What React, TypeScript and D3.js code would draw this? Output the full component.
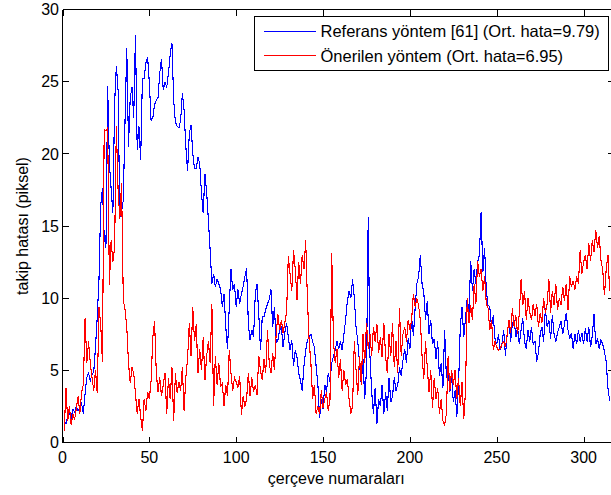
import React from 'react';
import * as d3 from 'd3';

// Referans yöntem [61] — frames 1..315
const blueSeries: number[] = [
  1.5, 1.3, 1.8, 2.0, 1.7, 2.3, 2.1, 2.5, 2.2, 2.4,
  2.7, 2.0, 3.4, 4.5, 4.8, 4.3, 4.7, 4.9, 6.6, 8.7,
  11.3, 16.4, 17.6, 14.3, 13.5, 24.7, 19.3, 17.6, 15.9, 23.5,
  26.1, 24.4, 15.6, 16.0, 16.8, 22.3, 27.3, 20.5, 23.9, 24.6,
  22.5, 28.2, 20.3, 21.9, 19.6, 25.2, 25.2, 26.3, 26.7, 24.9,
  22.3, 22.5, 23.4, 23.7, 23.9, 25.6, 26.6, 24.4, 25.0, 24.6,
  25.6, 26.9, 27.7, 23.7, 22.2, 21.9, 21.8, 22.3, 24.2, 23.0,
  20.5, 18.8, 21.4, 22.0, 20.0, 19.0, 19.0, 19.8, 19.3, 17.3,
  15.9, 18.6, 17.3, 15.4, 13.3, 11.0, 11.7, 10.8, 11.3, 11.0,
  10.6, 9.4, 10.3, 8.0, 6.5, 9.4, 12.0, 10.6, 11.0, 9.4,
  10.6, 9.6, 10.3, 10.8, 11.5, 12.1, 8.2, 7.1, 7.8, 7.3,
  10.3, 11.0, 8.9, 6.4, 8.7, 8.7, 9.2, 9.6, 9.9, 10.6,
  8.0, 9.4, 6.9, 7.1, 7.8, 8.0, 6.6, 7.6, 8.3, 7.3,
  6.4, 7.1, 5.3, 6.4, 5.9, 4.8, 4.3, 3.6, 5.3, 6.4,
  7.1, 7.3, 7.5, 7.0, 6.6, 5.3, 4.1, 1.7, 3.0, 2.3,
  4.0, 3.5, 4.8, 4.2, 5.5, 6.0, 6.4, 7.0, 6.5, 7.0,
  6.4, 7.5, 8.5, 9.8, 10.5, 10.0, 11.3, 10.0, 8.0, 7.0,
  5.5, 4.0, 5.8, 3.0, 5.0, 15.6, 6.0, 3.5, 2.0, 3.8,
  1.3, 3.0, 2.5, 4.0, 2.0, 3.5, 2.2, 4.5, 2.8, 3.2,
  4.5, 3.6, 4.0, 5.2, 4.6, 5.7, 6.5, 5.5, 7.2, 6.5,
  8.7, 7.4, 9.3, 11.0, 11.5, 13.0, 11.0, 10.4, 8.5, 9.8,
  7.5, 8.5, 6.8, 7.2, 5.8, 7.0, 4.6, 5.5, 3.8, 7.8,
  4.5, 5.2, 3.5, 4.6, 2.8, 3.6, 1.8, 4.0, 8.0, 9.4,
  7.3, 8.6, 10.0, 9.0, 12.6, 10.5, 12.0, 11.0, 12.5, 13.0,
  16.0, 11.8, 13.5, 10.5, 9.5, 9.4, 8.0, 8.8, 7.2, 6.8,
  7.5, 6.4, 6.8, 7.8, 6.0, 7.5, 8.5, 7.0, 8.2, 8.5,
  7.3, 8.0, 6.8, 7.8, 8.6, 7.0, 6.5, 7.8, 7.0, 8.0,
  6.8, 7.0, 5.6, 6.2, 7.5, 8.0, 7.0, 9.3, 8.0, 8.5,
  7.2, 8.8, 7.5, 7.0, 7.6, 8.0, 8.4, 7.5, 8.2, 9.0,
  7.8, 7.2, 7.6, 6.5, 7.5, 6.8, 7.8, 7.0, 7.6, 6.8,
  7.9, 7.0, 8.0, 6.6, 7.4, 8.9, 6.8, 7.2, 6.5, 7.1,
  6.8, 6.3, 5.6, 3.8, 2.9,
];

// Önerilen yöntem — frames 1..315
const redSeries: number[] = [
  0.8, 3.8, 1.5, 2.5, 1.2, 2.0, 1.6, 2.4, 3.2, 2.0,
  3.5, 4.0, 8.6, 5.5, 7.0, 5.5, 4.5, 3.6, 5.0, 3.4,
  9.4, 8.2, 5.6, 21.7, 21.6, 21.8, 10.9, 14.0, 12.5, 13.5,
  21.9, 17.5, 15.5, 18.0, 9.9, 9.2, 8.0, 5.5, 4.1, 5.2,
  4.8, 3.4, 2.0, 3.0, 1.8, 0.8, 3.0, 2.2, 3.5, 3.0,
  4.3, 7.3, 8.4, 4.8, 3.5, 4.5, 3.2, 4.0, 4.8, 2.0,
  4.5, 3.0, 5.2, 1.5, 4.8, 3.4, 4.2, 3.6, 5.2, 2.2,
  4.5, 5.8, 8.3, 6.0, 9.4, 7.0, 8.2, 4.8, 6.5, 5.0,
  7.3, 4.3, 6.0, 7.0, 5.5, 9.6, 2.5, 6.0, 4.0, 5.5,
  3.9, 4.1, 2.5, 4.0, 3.2, 6.4, 4.8, 3.6, 4.5, 4.2,
  3.8, 4.6, 1.9, 3.2, 2.5, 3.0, 4.8, 3.2, 4.5, 3.5,
  4.0, 3.3, 6.0, 5.0, 4.3, 5.8, 4.8, 7.8, 5.5, 4.8,
  6.2, 5.0, 7.5, 8.9, 7.8, 8.5, 7.6, 8.3, 9.0, 12.9,
  11.7, 10.5, 13.3, 12.0, 9.9, 12.5, 11.0, 13.0, 12.0, 14.0,
  10.0, 7.0, 5.5, 3.0, 4.0, 2.0, 2.5, 2.0, 3.6, 2.4,
  3.0, 3.5, 2.2, 3.0, 13.1, 7.0, 5.5, 6.5, 4.5, 5.8,
  3.6, 5.0, 4.0, 4.4, 3.0, 2.0, 2.5, 7.0, 5.0, 3.3,
  6.0, 4.0, 7.5, 5.5, 8.3, 6.5, 7.5, 6.0, 8.0, 7.0,
  8.2, 6.2, 7.3, 5.9, 8.3, 6.0, 4.8, 7.5, 6.0, 8.3,
  5.2, 7.0, 4.8, 9.3, 6.0, 7.5, 8.0, 7.0, 8.5, 7.8,
  8.5, 10.3, 9.4, 10.0, 9.5, 8.5, 6.0, 4.4, 7.0, 5.2,
  3.5, 5.0, 2.4, 4.5, 3.0, 3.8, 2.0, 3.0, 1.5, 1.2,
  2.0, 6.0, 3.6, 5.0, 4.0, 5.0, 3.0, 4.5, 2.5, 4.2,
  1.6, 3.5, 10.0, 8.3, 9.5, 8.5, 11.0, 9.6, 12.6, 11.5,
  12.0, 10.5, 11.5, 9.6, 9.3, 7.8, 8.5, 6.4, 7.0, 6.6,
  6.4, 6.5, 6.8, 7.0, 6.6, 7.5, 8.5, 7.6, 9.3, 8.0,
  8.8, 7.5, 9.0, 11.3, 9.5, 10.5, 8.5, 10.0, 9.0, 8.5,
  9.6, 8.8, 9.6, 8.0, 9.0, 8.3, 10.0, 9.0, 9.6, 11.3,
  9.0, 10.5, 9.5, 11.0, 9.2, 10.0, 9.5, 10.8, 9.8, 11.0,
  9.2, 11.5, 10.8, 11.2, 10.6, 11.5, 11.0, 13.3, 11.7, 12.5,
  13.0, 12.0, 13.8, 12.6, 14.0, 13.2, 14.7, 13.5, 14.3, 12.6,
  12.0, 10.2, 12.0, 13.0, 10.5,
];

const xTicks: number[] = [0, 50, 100, 150, 200, 250, 300];
const yTicks: number[] = [0, 5, 10, 15, 20, 25, 30];
const xLabel = 'çerçeve numaraları';
const yLabel = 'takip hatası (piksel)';
const legendLabels: string[] = [
  'Referans yöntem [61] (Ort. hata=9.79)',
  'Önerilen yöntem (Ort. hata=6.95)',
];
const seriesColors: string[] = ['#0000ff', '#ff0000'];

export default function App() {
  const W = 611;
  const H = 495;
  const L = 62.5;
  const R = 614;
  const T = 9.5;
  const B = 442.5;
  const font = '"Liberation Sans", Arial, Helvetica, sans-serif';
  const fs = 16;

  const x = d3.scaleLinear().domain([0, 317.5]).range([L, R]);
  const y = d3.scaleLinear().domain([0, 30]).range([B, T]);

  const line = d3
    .line<number>()
    .x((_, i) => x(i + 1))
    .y((d) => y(d));

  const series = [blueSeries, redSeries];
  const tl = 6;

  return (
    <svg
      width={W}
      height={H}
      style={{ position: 'absolute', left: 0, top: 0, background: '#fff' }}
      fontFamily={font}
    >
      <rect x={0} y={0} width={W} height={H} fill="#fff" />
      {/* data */}
      {series.map((s, k) => (
        <path
          key={k}
          d={line(s) || ''}
          fill="none"
          stroke={seriesColors[k]}
          strokeWidth={1.1}
          strokeLinejoin="miter"
          shapeRendering="crispEdges"
        />
      ))}
      {/* axes box */}
      <g stroke="#000" strokeWidth={1} fill="none" shapeRendering="crispEdges">
        <line x1={L} y1={T} x2={L} y2={B} />
        <line x1={L} y1={B} x2={R} y2={B} />
        <line x1={L} y1={T} x2={R} y2={T} />
        <line x1={R} y1={T} x2={R} y2={B} />
        {xTicks.map((t) => (
          <g key={'xt' + t}>
            <line x1={Math.round(x(t)) + 0.5} x2={Math.round(x(t)) + 0.5} y1={B} y2={B - tl} />
            <line x1={Math.round(x(t)) + 0.5} x2={Math.round(x(t)) + 0.5} y1={T} y2={T + tl} />
          </g>
        ))}
        {yTicks.map((t) => (
          <g key={'yt' + t}>
            <line x1={L} x2={L + tl} y1={Math.round(y(t) - 0.5) + 0.5} y2={Math.round(y(t) - 0.5) + 0.5} />
            <line x1={R} x2={R - tl} y1={Math.round(y(t) - 0.5) + 0.5} y2={Math.round(y(t) - 0.5) + 0.5} />
          </g>
        ))}
      </g>
      {/* tick labels */}
      <g fontSize={fs} fill="#000">
        {xTicks.map((t) => (
          <text key={'xl' + t} x={x(t)} y={462.5} textAnchor="middle">
            {t}
          </text>
        ))}
        {yTicks.map((t) => (
          <text key={'yl' + t} x={59} y={y(t) + 5.8} textAnchor="end">
            {t}
          </text>
        ))}
      </g>
      {/* axis labels */}
      <text x={(L + R) / 2 - 2} y={483.5} textAnchor="middle" fontSize={fs} fill="#000">
        {xLabel}
      </text>
      <text
        transform={`translate(27.5, ${(T + B) / 2}) rotate(-90)`}
        textAnchor="middle"
        fontSize={fs}
        fill="#000"
      >
        {yLabel}
      </text>
      {/* legend */}
      <g>
        <rect
          x={254.5}
          y={16.5}
          width={353.5}
          height={54}
          fill="#fff"
          stroke="#000"
          strokeWidth={1}
          shapeRendering="crispEdges"
        />
        {legendLabels.map((lab, k) => (
          <g key={'lg' + k}>
            <line
              x1={264}
              x2={316}
              y1={31.5 + k * 24}
              y2={31.5 + k * 24}
              stroke={seriesColors[k]}
              strokeWidth={1.1}
              shapeRendering="crispEdges"
            />
            <text x={320.5} y={37.3 + k * 24.4} fontSize={16.5} fill="#000">
              {lab}
            </text>
          </g>
        ))}
      </g>
    </svg>
  );
}
